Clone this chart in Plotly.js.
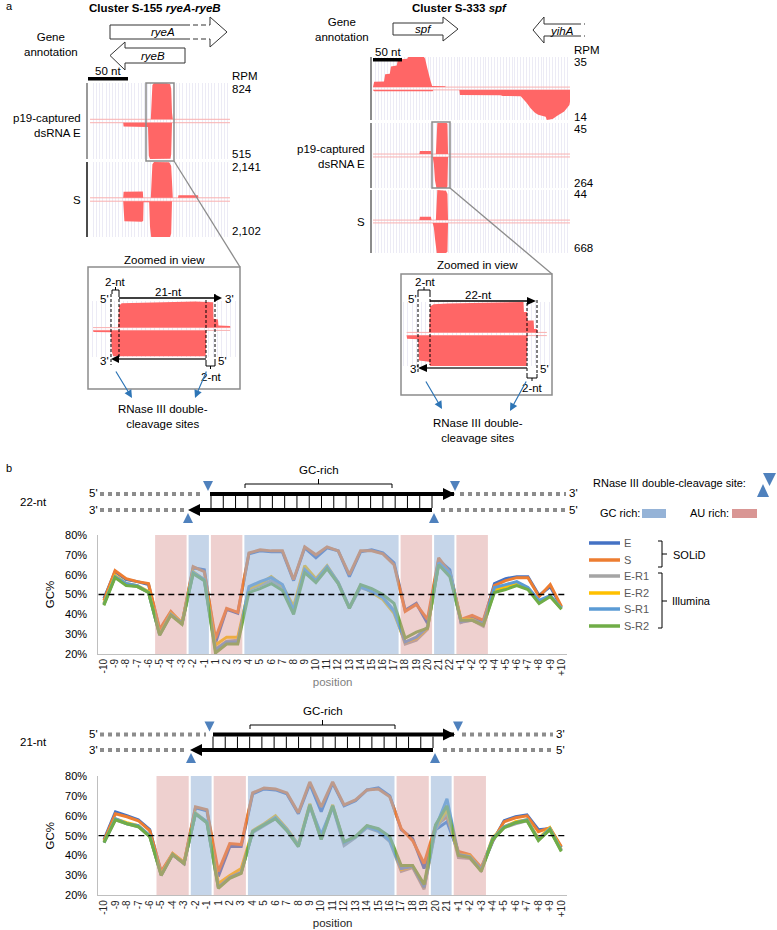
<!DOCTYPE html>
<html><head><meta charset="utf-8">
<script src="https://cdn.plot.ly/plotly-3.0.1.min.js"></script>
<style>html,body{margin:0;padding:0;background:#fff;}#chart{width:777px;height:930px;}</style>
</head><body><div id="chart"></div>
<script>
// ---------------- DATA ----------------
const pos22 = ['-10','-9','-8','-7','-6','-5','-4','-3','-2','-1','1','2','3','4','5','6','7','8','9','10','11','12','13','14','15','16','17','18','19','20','21','22','+1','+2','+3','+4','+5','+6','+7','+8','+9','+10'];
const pos21 = ['-10','-9','-8','-7','-6','-5','-4','-3','-2','-1','1','2','3','4','5','6','7','8','9','10','11','12','13','14','15','16','17','18','19','20','21','+1','+2','+3','+4','+5','+6','+7','+8','+9','+10'];
const seriesNames = ['E','S','E-R1','E-R2','S-R1','S-R2'];
const seriesGroups = ['SOLiD','Illumina'];

// 22-nt GC% per position
const E22   = [48,61.5,57.5,56.5,55,32,41,35,63.5,62.5, 25.5,42.5,40.5,70.5,72,71.5,71.5,57,73.5,68.5,73.5,72,59,71.5,72.5,71,66,42,45.5,35.5,67.5,62.5, 36,38.5,36,55.5,58,59,59,49.5,54,43.5];
const S22   = [47,62,58,56.5,55.5,32.5,41.5,35.5,64,61.5, 28,43,41,71,72.5,72,72,57.5,74,70,74,72,60,72,72,70.5,65,41.5,45,37.5,68.5,61, 37.5,39.5,37,54.5,57,58.5,58.5,49,55,44];
const ER1_22= [45,59,55,54,51,30,40,35.5,61,57, 22.5,26.5,27,52.5,54.5,57,53.5,41.5,63,57.5,63.5,55.5,43,53.5,51.5,48.5,42,25,27,32.5,65.5,60, 36,37,34,52,54,55.5,53,46,49,43];
const ER2_22= [45.5,59.5,55.5,54.5,51.5,30,40.5,36,61.5,57.5, 24.5,28.5,28.5,53,55.5,59,54.5,44,64.5,58,64.5,56,43.5,54.5,51,47.5,40.5,26,28,33,65.5,60.5, 37.5,37.5,35,52.5,54,56,53,46.5,49,43];
const SR1_22= [45,59,55.5,54.5,51,29.5,40,35.5,61,57.5, 22,26,26,54,56.5,58.5,55,42,62.5,57,64,56,43.5,54,51.5,48.5,41.5,26,28.5,33.5,66,61, 36.5,37,35.5,53.5,55,56.5,53.5,47,49.5,43];
const SR2_22= [44.5,58.5,54.5,54,51,29.5,39.5,35,60.5,57, 20.5,25,25,51,53,55.5,52,40,61,56,63,55.5,43,55,53,50,45.5,28,31,33,65,59, 37,37,34.5,51,52.5,54.5,52.5,45.5,49,42.5];

// 21-nt GC% per position
const E21   = [48,62,60,58,53,31.5,40.5,36,64,62.5, 29.5,44.5,44.5,71,73.5,73,71,61,76,62,76.5,65,67.5,73,74,70,53,48.5,33.5,53,57, 41.5,40,33.5,47,57.5,59.5,60.5,53,53.5,44];
const S21   = [47.5,61,59.5,57.5,52.5,32,41,36.5,64.5,63, 32,46,45.5,71.5,74,73.5,71.5,61.5,77,64.5,77,65.5,68,73,73.5,69.5,53.5,47.5,36,55,59.5, 42,40.5,34,47.5,57,59,60,52,54,44.5];
const ER1_21= [46.5,58,56,54.5,49.5,30.5,40.5,36,61,56.5, 24.5,29,31.5,51.5,55,58.5,52.5,44.5,65,48,64.5,45,49,54,52,47,32,34,23,53,62, 39,38.5,32.5,48,54,56,57.5,48,53,42.5];
const ER2_21= [47,58.5,56.5,55,50,30.5,41,36.5,61.5,57, 26,30,33.5,52.5,56,60,53.5,45.5,66,49,65.5,46.5,49.5,55,53,48,33,34.5,24,54,63, 40.5,40,33,49,54.5,57,58,48.5,54,43];
const SR1_21= [46.5,58.5,56,55,50,30,40.5,36,61,57, 24,29,31.5,52,55.5,59,53,45,65,50.5,64.5,46.5,49.5,54.5,52.5,47.5,33.5,34.5,24,54,68.5, 40.5,39.5,33,48.5,54.5,56.5,58,48,53.5,42.5];
const SR2_21= [46.5,58,56,54.5,49.5,30,40.5,36,61,56.5, 23.5,28.5,31,52,55.5,58.5,52.5,44.5,65.5,48,65,47,49.5,55,53.5,49.5,35,35,25.5,55.5,65, 40,39,32,48,54,56.5,57.5,47.5,53,42];

// GC-rich / AU-rich position regions
const regions22 = [['-5','-3','AU'],['-2','-1','GC'],['1','3','AU'],['4','17','GC'],['18','20','AU'],['21','22','GC'],['+1','+3','AU']];
const regions21 = [['-5','-3','AU'],['-2','-1','GC'],['1','3','AU'],['4','16','GC'],['17','19','AU'],['20','21','GC'],['+1','+3','AU']];

// Coverage tracks (position in nt, RPM)
const rpmLeft  = {E:[824,515], S:[2141,2102]};
const rpmRight = {T:[35,14], E:[45,264], S:[44,668]};
const LE_plus_pos  = [76,77,78,80,96,100,101.5,102.5,103.5];
const LE_plus_rpm  = [0,450,780,824,820,800,700,150,0];
const LE_minus_pos = [41.5,42,72.5,73.5,75,100.5,101.5,102.5];
const LE_minus_rpm = [0,55,60,470,515,512,450,0];
const LS_plus_pos  = [41.5,42,66,66.5,76,77,78,80,99,101.5,102.5,103.5,110,110.5,135,135.5];
const LS_plus_rpm  = [0,360,380,0,0,1200,2000,2141,2120,1900,400,0,0,160,160,0];
const LS_minus_pos = [41.5,42,43,65,66.5,67,74,75,76.5,100,101.5,102.5];
const LS_minus_rpm = [0,1000,1180,1200,1150,60,60,1500,2102,2102,1900,0];
const RT_plus_pos  = [0,2,19,21,29,31,41,43,59,61,88,90,93,96,99,102,124,126];
const RT_plus_rpm  = [0,6.3,6.5,15,15.5,24,25,32,33,35,35,33,24,15,8,1.2,1,0];
const RT_minus_pos = [0,2,103,104,149,150,220,224,255,259,265,272,279,285,298,300,310,318,330,339,340];
const RT_minus_rpm = [0,0.6,0.6,0,0,2.4,2.5,2.8,2.9,4,6,8.5,10.5,11.5,12.5,14,13.5,12,10,7,5.5];
const RE_plus_pos  = [80,81,100,101,108.5,110,111,127,128.5,129.5];
const RE_plus_rpm  = [0,4.5,4.5,0,0,38,45,45,44,0];
const RE_minus_pos = [103,105,107,109.5,127,128.5,129.5];
const RE_minus_rpm = [0,60,200,264,264,250,0];
const RS_plus_pos  = [80,81,100,101,108.5,110,111,126,128.5,129.5];
const RS_plus_rpm  = [0,5,5,0,0,40,44,43,38,0];
const RS_minus_pos = [103,105,107,110,126,128.5,129.5];
const RS_minus_rpm = [0,100,350,668,668,640,0];
// zoomed views (position in nt, fraction of max)
const ZL_plus_pos  = [-0.2,0,0.6,17,21,21.1,22.1,22.2,24.8,24.9];
const ZL_plus_val  = [0,0.82,0.92,0.98,0.95,0.33,0.3,0.08,0.06,0];
const ZL_minus_pos = [-5.8,-5.7,-1.8,-1.6,-1.3,19.2,19.4,19.5];
const ZL_minus_val = [0,0.06,0.07,0.8,0.97,0.97,0.9,0];
const ZR_plus_pos  = [-0.2,0,0.8,4,21.2,21.3,22,22.1,23.5,23.6,24.3,24.4];
const ZR_plus_val  = [0,0.85,0.93,0.95,1.0,0.67,0.67,0.39,0.39,0.11,0.11,0];
const ZR_minus_pos = [-5.3,-5.2,-2.7,-2.5,-0.2,0,21.9,22.1];
const ZR_minus_val = [0,0.1,0.12,0.82,0.86,1.0,1.0,0];

// ---------------- STYLE / LAYOUT ----------------
const W = 777, H = 930;
const FONT = 'Liberation Sans, Arial, Helvetica, sans-serif';
const seriesColors = ['#4472C4','#ED7D31','#A5A5A5','#FFC000','#5B9BD5','#70AD47'];
const PINK = '#ff6666';
const TRI = '#4f81bd';
const xd = (a,b) => [a/W, b/W];
const yd = (t,b) => [1-b/H, 1-t/H];

const traces = [];
const shapes = [];
const ann = [];
const P = {xref:'x10', yref:'y10'};
const NONE = 'rgba(0,0,0,0)';
function L(x0,y0,x1,y1,color,width,dash){shapes.push({type:'line',...P,x0,y0,x1,y1,line:{color:color||'#000',width:width===undefined?1:width,dash:dash||'solid'}});}
function R(x0,y0,x1,y1,fill,lc,lw){shapes.push({type:'rect',...P,x0,y0,x1,y1,fillcolor:fill||NONE,line:{color:lc||NONE,width:lw||0}});}
function PA(d,fill,lc,lw){shapes.push({type:'path',...P,path:d,fillcolor:fill||NONE,line:{color:lc||NONE,width:lw||0}});}
function T(x,y,text,o){o=o||{};ann.push({...P,x,y,text,showarrow:false,xanchor:o.xa||'center',yanchor:o.ya||'middle',align:o.align||'center',font:{family:FONT,size:o.size||11.5,color:o.color||'#000'}});}
function ARW(x0,y0,x1,y1,color){ann.push({...P,x:x1,y:y1,ax:x0,ay:y0,axref:'x10',ayref:'y10',text:'',showarrow:true,arrowhead:2,arrowsize:1.3,arrowwidth:1.2,arrowcolor:color});}
function triDown(cx,yt,w,h){PA(`M${cx-w/2},${yt} L${cx+w/2},${yt} L${cx},${yt+h} Z`,TRI);}
function triUp(cx,yb,w,h){PA(`M${cx-w/2},${yb} L${cx+w/2},${yb} L${cx},${yb-h} Z`,TRI);}

const layout = {
  width:W, height:H, margin:{l:0,r:0,t:0,b:0}, paper_bgcolor:'#fff', plot_bgcolor:NONE,
  showlegend:false, hovermode:false, font:{family:FONT,color:'#000'},
  xaxis10:{domain:[0,1],range:[0,W],visible:false,fixedrange:true,anchor:'y10'},
  yaxis10:{domain:[0,1],range:[H,0],visible:false,fixedrange:true,anchor:'x10'}
};

// ---------------- line charts ----------------
function chartAxes(xn,yn,cats,ytop,ybot,titleColor){
  layout['xaxis'+xn] = {domain:xd(98.3,567),anchor:'y'+yn,type:'category',categoryorder:'array',categoryarray:cats,
    range:[-0.5,cats.length-0.5],tickmode:'array',tickvals:cats,ticktext:cats,tickangle:-90,
    tickfont:{family:FONT,size:10,color:'#262626'},showline:true,linecolor:'#bfbfbf',linewidth:1,ticks:'',
    showgrid:false,zeroline:false,fixedrange:true,
    title:{text:'position',font:{family:FONT,size:11.5,color:titleColor},standoff:2}};
  layout['yaxis'+yn] = {domain:yd(ytop,ybot),anchor:'x'+xn,range:[20,80],tickmode:'linear',tick0:20,dtick:10,ticksuffix:'%',
    tickfont:{family:FONT,size:11,color:'#000'},showline:true,linecolor:'#bfbfbf',linewidth:1,ticks:'outside',ticklen:8,
    tickcolor:NONE,showgrid:false,zeroline:false,fixedrange:true,
    title:{text:'GC%',font:{family:FONT,size:11.5,color:'#000'},standoff:8}};
}
chartAxes('', '', pos22, 535, 654, '#7f7f7f');
chartAxes('2','2', pos21, 776, 895.3, '#262626');

const series22 = [E22,S22,ER1_22,ER2_22,SR1_22,SR2_22];
const series21 = [E21,S21,ER1_21,ER2_21,SR1_21,SR2_21];
series22.forEach((v,i)=>traces.push({type:'scatter',mode:'lines',name:seriesNames[i],x:pos22,y:v,xaxis:'x',yaxis:'y',line:{color:seriesColors[i],width:3},hoverinfo:'skip'}));
series21.forEach((v,i)=>traces.push({type:'scatter',mode:'lines',name:seriesNames[i],x:pos21,y:v,xaxis:'x2',yaxis:'y2',line:{color:seriesColors[i],width:3},hoverinfo:'skip'}));

function shade(regs,cats,xr,yr){
  regs.forEach(r=>{
    const a = cats.indexOf(r[0]), b = cats.indexOf(r[1]);
    shapes.push({type:'rect',xref:xr,yref:yr,x0:a-0.5+0.09,x1:b+0.5-0.09,y0:20,y1:83,layer:'above',
      fillcolor: r[2]==='GC' ? 'rgba(149,179,215,0.55)' : 'rgba(217,150,148,0.45)', line:{width:0,color:NONE}});
  });
  shapes.push({type:'line',xref:xr,yref:yr,x0:-0.5,x1:cats.length-0.5,y0:50,y1:50,layer:'above',line:{color:'#000',width:1.3,dash:'6px,4px'}});
}
shade(regions22,pos22,'x','y');
shade(regions21,pos21,'x2','y2');

// ---------------- coverage tracks ----------------
const G = 0.045;
function trackAxes(n,xdom,xr,dt,ydom){
  layout['xaxis'+n] = {domain:xdom,range:xr,anchor:'y'+n,showgrid:true,gridcolor:'#ecebf5',gridwidth:1,tick0:0,dtick:dt,
    showticklabels:false,ticks:'',zeroline:false,showline:false,fixedrange:true};
  layout['yaxis'+n] = {domain:ydom,range:[-1,1],anchor:'x'+n,visible:false,fixedrange:true};
}
function hair(n,xr,g){[1,-1].forEach(s=>traces.push({type:'scatter',mode:'lines',x:xr,y:[s*g,s*g],xaxis:'x'+n,yaxis:'y'+n,line:{color:'#f9b0b0',width:1},hoverinfo:'skip'}));}
function strand(n,pos,val,scale,sign,g){
  const ys = val.map(v=>sign*(g+(1-g)*v/scale));
  const x = pos.concat(pos.slice().reverse());
  const y = ys.concat(pos.map(()=>sign*g));
  traces.push({type:'scatter',mode:'lines',x,y,xaxis:'x'+n,yaxis:'y'+n,fill:'toself',fillcolor:PINK,line:{width:0,color:PINK},hoverinfo:'skip'});
}
const LR=[0,175], RR=[0,340];
trackAxes(3,xd(90,230),LR,4,yd(83,159));
trackAxes(4,xd(90,230),LR,4,yd(162,237));
trackAxes(5,xd(373,570),RR,5,yd(57,120));
trackAxes(6,xd(373,570),RR,5,yd(123,188));
trackAxes(7,xd(373,570),RR,5,yd(190,253));
const ZLR=[-6.7,26.8], ZRR=[-6.35,27.44];
trackAxes(8,xd(89,239),ZLR,1,yd(301,357));
trackAxes(9,xd(402,551),ZRR,1,yd(302,366));
[3,4,5,6,7].forEach(n=>hair(n, n<5?LR:RR, G));
hair(8,[-5.8,24.8],0.05); hair(9,[-5.3,26.5],0.05);
strand(3,LE_plus_pos,LE_plus_rpm,rpmLeft.E[0],1,G);
strand(3,LE_minus_pos,LE_minus_rpm,rpmLeft.E[1],-1,G);
strand(4,LS_plus_pos,LS_plus_rpm,rpmLeft.S[0],1,G);
strand(4,LS_minus_pos,LS_minus_rpm,rpmLeft.S[1],-1,G);
strand(5,RT_plus_pos,RT_plus_rpm,rpmRight.T[0],1,G);
strand(5,RT_minus_pos,RT_minus_rpm,rpmRight.T[1],-1,G);
strand(6,RE_plus_pos,RE_plus_rpm,rpmRight.E[0],1,G);
strand(6,RE_minus_pos,RE_minus_rpm,rpmRight.E[1],-1,G);
strand(7,RS_plus_pos,RS_plus_rpm,rpmRight.S[0],1,G);
strand(7,RS_minus_pos,RS_minus_rpm,rpmRight.S[1],-1,G);
strand(8,ZL_plus_pos,ZL_plus_val,1,1,0.05);
strand(8,ZL_minus_pos,ZL_minus_val,1,-1,0.05);
strand(9,ZR_plus_pos,ZR_plus_val,1,1,0.05);
strand(9,ZR_minus_pos,ZR_minus_val,1,-1,0.05);

// ---------------- panel a decorations ----------------
T(4,6,'a',{xa:'left',size:11});
T(155,8,'<b>Cluster S-155 <i>ryeA-ryeB</i></b>',{size:11.5});
T(459,8,'<b>Cluster S-333 <i>spf</i></b>',{size:11.5});
T(51,44,'Gene<br>annotation');
T(342,29,'Gene<br>annotation');
const AC='#333';
// ryeA
L(110,25,110,39,AC); L(110,25,185,25,AC); L(110,39,185,39,AC);
L(185,25,210,25,AC,1,'5px,3px'); L(185,39,210,39,AC,1,'5px,3px');
PA('M210,25 L210,17 L227,32 L210,47 L210,39','#fff',AC,1);
T(163,32,'<i>ryeA</i>');
// ryeB
L(125,48,185,48,AC); L(125,63,185,63,AC); L(185,48,185,63,AC);
PA('M125,48 L125,42 L110,55.5 L125,70 L125,63','#fff',AC,1);
T(153,56,'<i>ryeB</i>');
// spf
L(393,23,443,23,AC); L(393,35,443,35,AC); L(393,23,393,35,AC);
PA('M443,23 L443,17 L458,29 L443,41 L443,35','#fff',AC,1);
T(423,29,'<i>spf</i>');
// yihA
PA('M544,24 L544,17 L533,30 L544,43 L544,36','#fff',AC,1);
L(544,24,576,24,AC); L(544,36,576,36,AC);
L(576,24,585,24,AC,1,'5px,3px'); L(576,36,585,36,AC,1,'5px,3px');
T(562,31,'<i>yihA</i>');
// scale bars
R(88,77,128,80.5,'#000'); T(108,71,'50 nt');
R(373,58,402,61.5,'#000'); T(388,52,'50 nt');
// track bars
L(87,83,87,159,'#999',2); L(87,162,87,237,'#111',1.5);
L(371,57,371,120,'#666',1.5); L(371,123,371,188,'#666',1.5); L(371,190,371,253,'#666',1.5);
// labels
T(83,125,'p19-captured<br>dsRNA E',{xa:'right',align:'right'});
T(83,200,'S',{xa:'right'});
T(367,156,'p19-captured<br>dsRNA E',{xa:'right',align:'right'});
T(367,222,'S',{xa:'right'});
[['RPM',76],[rpmLeft.E[0].toLocaleString('en-US'),89],[rpmLeft.E[1].toLocaleString('en-US'),154],[rpmLeft.S[0].toLocaleString('en-US'),167],[rpmLeft.S[1].toLocaleString('en-US'),231]]
  .forEach(a=>T(230,a[1],a[0],{xa:'left'}));
[['RPM',50],[String(rpmRight.T[0]),62],[String(rpmRight.T[1]),117],[String(rpmRight.E[0]),129],[String(rpmRight.E[1]),183],[String(rpmRight.S[0]),194],[String(rpmRight.S[1]),248]]
  .forEach(a=>T(572,a[1],a[0],{xa:'left'}));
// highlight boxes, connectors, zoom boxes
const BG='#8c8c8c';
R(146,83,174,161,NONE,BG,1.5); L(174,161,240,267,BG,1.3); R(88,267,240,389,NONE,BG,1.5);
R(432,122,450,188,NONE,BG,1.5); L(450,188,552,274,BG,1.3); R(401,274,552,395,NONE,BG,1.5);
T(164,260,'Zoomed in view'); T(477,265,'Zoomed in view');
// left zoom annotation
const DSH='3px,2px';
L(111,294,111,365,'#000',1,DSH); L(119,294,119,358,'#000',1,DSH); L(206,300,206,362,'#000',1,DSH); L(215,294,215,362,'#000',1,DSH);
L(119,298,215,298,'#000',1.3); PA('M214,294 L222,298 L214,302 Z','#000');
L(119,359,206,359,'#333',1.3); PA('M119,355 L111,359 L119,363 Z','#000');
PA('M112,294 L112,290 L119,290 L119,294 M115.5,290 L115.5,287',NONE,'#000',1);
PA('M206,362 L206,366 L215,366 L215,362 M210.5,366 L210.5,369',NONE,'#000',1);
T(115,282,'2-nt'); T(168,292,'21-nt'); T(104,299,"5'"); T(229,299,"3'"); T(104,361,"3'"); T(222,361,"5'"); T(211,377,'2-nt');
ARW(115,370,132,398,'#2e75b6'); ARW(207,370,195,398,'#2e75b6');
T(163,416,'RNase III double-<br>cleavage sites');
// right zoom annotation
L(418,294,418,373,'#000',1,DSH); L(430,294,430,365,'#000',1,DSH); L(527,303,527,374,'#000',1,DSH); L(537,300,537,375,'#000',1,DSH);
L(430,301,528,301,'#000',1.3); PA('M527,297 L536,301 L527,305 Z','#000');
L(427,368,527,368,'#333',1.3); PA('M427,364 L418,368 L427,372 Z','#000');
PA('M418,294 L418,290 L430,290 L430,294 M424,290 L424,287',NONE,'#000',1);
PA('M527,374 L527,378 L537,378 L537,374 M532,378 L532,381',NONE,'#000',1);
T(425,282,'2-nt'); T(478,295,'22-nt'); T(412,299,"5'"); T(414,369,"3'"); T(544,369,"5'"); T(532,388,'2-nt');
ARW(425,380,442,409,'#2e75b6'); ARW(527,380,510,411,'#2e75b6');
T(478,430,'RNase III double-<br>cleavage sites');

// ---------------- panel b decorations ----------------
T(4,468,'b',{xa:'left',size:11});
const DG='#8c8c8c', SQ='4px,4px';
function duplex(o){
  const yt=o.yt, yb=o.yb;
  L(100,yt,o.tl,yt,DG,4,SQ);
  R(o.ts,yt-2,o.te-1,yt+2,'#000'); PA(`M${o.te-12},${yt-6} L${o.te},${yt} L${o.te-12},${yt+6} Z`,'#000');
  L(o.tr,yt,o.re,yt,DG,4,SQ);
  L(100,yb,o.bl,yb,DG,4,SQ);
  R(o.bs+11,yb-2,o.be,yb+2,'#000'); PA(`M${o.bs+12},${yb-6} L${o.bs},${yb} L${o.bs+12},${yb+6} Z`,'#000');
  L(o.br,yb,o.re,yb,DG,4,SQ);
  for(let i=0;i<19;i++){const x=o.ls+i*(o.le-o.ls)/18; L(x,yt+2,x,yb-2,'#000',1);}
  triDown(o.d1,yt-13,10,10); triDown(o.d2,yt-13,10,10);
  triUp(o.u1,yb+13,10,10); triUp(o.u2,yb+13,10,10);
  PA(`M${o.g0},${o.gy+4} L${o.g0},${o.gy} L${o.g1},${o.gy} L${o.g1},${o.gy+4} M${(o.g0+o.g1)/2},${o.gy} L${(o.g0+o.g1)/2},${o.gy-5}`,NONE,'#000',1);
  T((o.g0+o.g1)/2,o.gy-14,'GC-rich');
  T(33,(yt+yb)/2,o.label);
  T(93,yt-1,"5'"); T(93,yb,"3'");
  T(o.re+7,yt-1,"3'"); T(o.re+7,yb,"5'");
}
duplex({yt:494,yb:510,tl:204,ts:210,te:455,tr:460,re:566,bl:184,bs:188,be:432,br:441,ls:211,le:432,d1:208,d2:455,u1:188,u2:434,g0:245,g1:392,gy:484,label:'22-nt'});
duplex({yt:734.5,yb:750,tl:206,ts:213,te:455,tr:462,re:553,bl:186,bs:190,be:433,br:443,ls:213,le:433,d1:209.5,d2:458,u1:191,u2:435,g0:250,g1:395,gy:725,label:'21-nt'});

// legend block
T(591,483,'RNase III double-cleavage site:',{xa:'left',size:11});
PA('M763,473 L776,473 L769.5,486 Z',TRI); PA('M757,497 L769,497 L763,484 Z',TRI);
T(598,513,'GC rich:',{xa:'left',size:11}); R(642,509,666,518,'#95b3d7');
T(688,513,'AU rich:',{xa:'left',size:11}); R(732,509,757,518,'#d99694');
const legY=[543,560,576,593,609,626];
seriesNames.forEach((nm,i)=>{L(589,legY[i],620,legY[i],seriesColors[i],3.5); T(622,legY[i],nm,{xa:'left',size:11,color:'#595959'});});
PA('M658,541 L662,541 L662,567 L658,567 M662,554 L667,554',NONE,'#000',1); T(671,555,seriesGroups[0],{xa:'left',size:11});
PA('M658,573 L662,573 L662,628 L658,628 M662,601 L667,601',NONE,'#000',1); T(670,601,seriesGroups[1],{xa:'left',size:11});

layout.shapes = shapes;
layout.annotations = ann;
Plotly.newPlot('chart', traces, layout, {staticPlot:true, displayModeBar:false});
</script></body></html>
